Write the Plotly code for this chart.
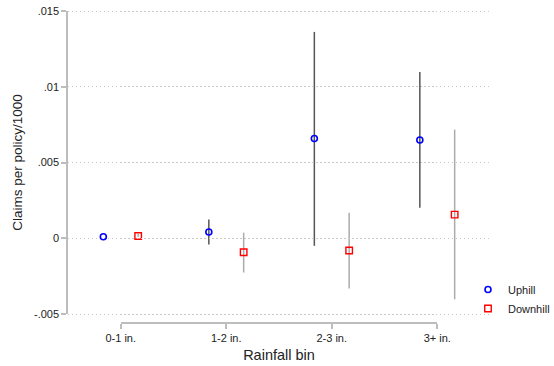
import plotly.graph_objects as go

categories = ["0-1 in.", "1-2 in.", "2-3 in.", "3+ in."]
cat_pos = [1, 2, 3, 4]
offset = 0.165

uphill = [0.0001, 0.00041, 0.00658, 0.00649]
uphill_lo = [0.0001, -0.00041, -0.0005, 0.00202]
uphill_hi = [0.0001, 0.00123, 0.01362, 0.01097]

downhill = [0.00015, -0.00092, -0.00081, 0.00156]
downhill_lo = [0.0001, -0.00226, -0.00331, -0.00403]
downhill_hi = [0.0003, 0.00037, 0.00169, 0.00717]

yticks = [-0.005, 0, 0.005, 0.01, 0.015]
yticklabels = ["-.005", "0", ".005", ".01", ".015"]

W, H = 554, 366
L, R, T, B = 68, 64, 7, 43
x_range = [0.5, 4.5]
y_range = [-0.005, 0.015]

plot_h = H - T - B          # 316 px
y_axis_top_px = 11          # pixel of .015
y_axis_bot_px = 314         # pixel of -.005
ext = 4                     # px of extra room for edge gridlines
per_px = (y_range[1] - y_range[0]) / (y_axis_bot_px - y_axis_top_px)
ydata_range = [y_range[0] - ext * per_px, y_range[1] + ext * per_px]
ydata_dom = [(H - B - (y_axis_bot_px + ext)) / plot_h, (H - B - (y_axis_top_px - ext)) / plot_h]
yaxis_dom = [(H - B - y_axis_bot_px) / plot_h, (H - B - y_axis_top_px) / plot_h]

fig = go.Figure()

def ci_lines(xs, lo, hi):
    xx, yy = [], []
    for x, a, b in zip(xs, lo, hi):
        xx += [x, x, None]
        yy += [a, b, None]
    return xx, yy

xu = [c - offset for c in cat_pos]
xd = [c + offset for c in cat_pos]

ux, uy = ci_lines(xu, uphill_lo, uphill_hi)
dx, dy = ci_lines(xd, downhill_lo, downhill_hi)

fig.add_trace(go.Scatter(x=ux, y=uy, mode="lines", line=dict(color="#555555", width=1.5),
                         showlegend=False, hoverinfo="skip", connectgaps=False))
fig.add_trace(go.Scatter(x=dx, y=dy, mode="lines", line=dict(color="#ababab", width=1.5),
                         showlegend=False, hoverinfo="skip", connectgaps=False))
fig.add_trace(go.Scatter(x=xu, y=uphill, mode="markers", name="Uphill",
                         marker=dict(symbol="circle-open", size=6, color="#0000ff",
                                     line=dict(width=1.6, color="#0000ff"))))
fig.add_trace(go.Scatter(x=xd, y=downhill, mode="markers", name="Downhill",
                         marker=dict(symbol="square-open", size=6.5, color="#ff0000",
                                     line=dict(width=1.4, color="#ff0000"))))
# dummy traces to create the display axes
fig.add_trace(go.Scatter(x=[None], y=[None], xaxis="x2", yaxis="y", showlegend=False,
                         hoverinfo="skip"))
fig.add_trace(go.Scatter(x=[None], y=[None], xaxis="x", yaxis="y2", showlegend=False,
                         hoverinfo="skip"))

span = x_range[1] - x_range[0]
axis_grey = "#bdbdbd"
txt = "#222222"
fig.update_layout(
    width=W, height=H,
    margin=dict(l=L, r=R, t=T, b=B, autoexpand=False),
    paper_bgcolor="white", plot_bgcolor="rgba(0,0,0,0)",
    font=dict(family="Liberation Sans, Arial, sans-serif", color=txt, size=11),
    xaxis=dict(range=x_range, domain=[0, 1], visible=False, showgrid=False, zeroline=False),
    xaxis2=dict(range=[cat_pos[0], cat_pos[-1]],
                domain=[(cat_pos[0] - x_range[0]) / span, (cat_pos[-1] - x_range[0]) / span],
                anchor="free", position=0,
                tickvals=cat_pos, ticktext=categories, ticks="outside", ticklen=5,
                tickcolor=axis_grey, tickwidth=1.5,
                showline=True, linecolor=axis_grey, linewidth=1.5,
                showgrid=False, zeroline=False,
                tickfont=dict(size=11, color=txt),
                title=dict(text="Rainfall bin", font=dict(size=14.5, color=txt), standoff=6)),
    yaxis=dict(range=ydata_range, domain=ydata_dom, anchor="x",
               tickvals=yticks, showticklabels=False, ticks="",
               showline=False,
               showgrid=True, gridcolor="#c8c8c8", gridwidth=1, griddash="1px,3px",
               zeroline=False),
    yaxis2=dict(range=y_range, domain=yaxis_dom, anchor="x",
                tickvals=yticks, ticktext=yticklabels, ticks="outside", ticklen=5,
                tickcolor=axis_grey, tickwidth=1.5,
                showline=True, linecolor=axis_grey, linewidth=1.5,
                showgrid=False, zeroline=False,
                tickfont=dict(size=11, color=txt),
                title=dict(text="Claims per policy/1000", font=dict(size=13.5, color=txt),
                           standoff=8)),
    legend=dict(x=(468 - L) / (W - L - R), y=(H - B - 275) / plot_h,
                xanchor="left", yanchor="top",
                font=dict(size=11, color=txt), bgcolor="rgba(0,0,0,0)",
                itemwidth=30, tracegroupgap=2),
    showlegend=True,
)

fig.write_html("out.html")
